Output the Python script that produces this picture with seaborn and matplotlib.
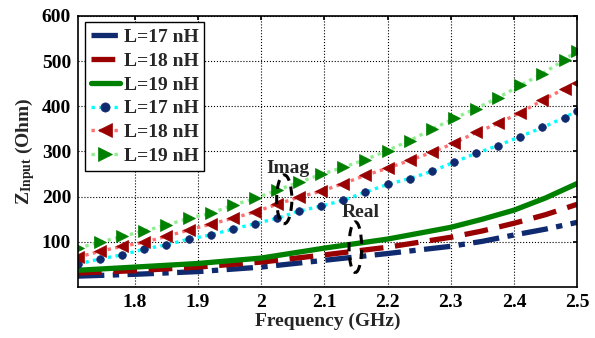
import numpy as np
import pandas as pd
import matplotlib
matplotlib.use("Agg")
import matplotlib.pyplot as plt
import seaborn as sns
from matplotlib.patches import Ellipse

# ---- data ----
freq_marker = [1.71, 1.745, 1.78, 1.815, 1.85, 1.885, 1.92, 1.955, 1.99, 2.025,
               2.06, 2.095, 2.13, 2.165, 2.2, 2.235, 2.27, 2.305, 2.34, 2.375,
               2.41, 2.445, 2.48, 2.5]
imag_L17 = [51, 62, 71, 84, 93, 106, 115, 128, 140, 152, 168, 179, 192, 210,
            227, 240, 256, 276, 296, 313, 333, 353, 375, 390]
imag_L18 = [66, 79, 90, 99, 112, 126, 139, 152, 166, 183, 199, 212, 229, 247,
            263, 280, 298, 318, 342, 362, 386, 413, 439, 452]
imag_L19 = [86, 99, 112, 124, 137, 152, 163, 181, 196, 214, 232, 249, 265, 282,
            302, 324, 349, 373, 395, 419, 446, 472, 503, 523]

freq_line = [1.71, 1.8, 1.9, 2.0, 2.1, 2.2, 2.3, 2.35, 2.4, 2.45, 2.5]
real_L17 = [24, 28, 34, 44, 59, 74, 90, 101, 115, 128, 143]
real_L18 = [31, 36, 44, 55, 71, 88, 110, 124, 141, 160, 183]
real_L19 = [37, 44, 52, 64, 86, 106, 132, 150, 170, 197, 229]

labels = ["L=17 nH", "L=18 nH", "L=19 nH"]
xticks = [1.8, 1.9, 2.0, 2.1, 2.2, 2.3, 2.4, 2.5]
xtick_labels = ["1.8", "1.9", "2", "2.1", "2.2", "2.3", "2.4", "2.5"]
yticks = [100, 200, 300, 400, 500, 600]

sns.set_theme(style="white")
plt.rcParams["font.family"] = ["Liberation Serif", "DejaVu Serif"]
plt.rcParams["font.weight"] = "bold"
plt.rcParams["mathtext.fontset"] = "custom"
plt.rcParams["mathtext.rm"] = "Liberation Serif:bold"
plt.rcParams["mathtext.bf"] = "Liberation Serif:bold"
plt.rcParams["mathtext.it"] = "Liberation Serif:bold"

FS = 14

fig = plt.figure(figsize=(5.95, 3.38), dpi=100)
ax = fig.add_axes([0.131, 0.151, 0.839, 0.802])

navy = "#0f2a6e"
dred = "#990000"
green = "#008000"

df_real = pd.DataFrame({"f": freq_line, "L17": real_L17, "L18": real_L18, "L19": real_L19})
df_imag = pd.DataFrame({"f": freq_marker, "L17": imag_L17, "L18": imag_L18, "L19": imag_L19})

lw = 3.8
sns.lineplot(data=df_real, x="f", y="L17", ax=ax, color=navy, lw=lw,
             linestyle=(0, (5, 1.6, 1.2, 1.6)), label=labels[0])
sns.lineplot(data=df_real, x="f", y="L18", ax=ax, color=dred, lw=lw,
             linestyle=(0, (4.5, 2.2)), label=labels[1])
sns.lineplot(data=df_real, x="f", y="L19", ax=ax, color=green, lw=lw,
             linestyle="-", label=labels[2])

dot = (0, (1, 1.3))
sns.lineplot(data=df_imag, x="f", y="L17", ax=ax, color="#00ffff", lw=2.4,
             linestyle=dot, marker="o", markersize=5.5, markerfacecolor=navy,
             markeredgecolor=navy, markeredgewidth=0.5, label=labels[0])
sns.lineplot(data=df_imag, x="f", y="L18", ax=ax, color="#ff7070", lw=2.4,
             linestyle=dot, marker="<", markersize=8, markerfacecolor=dred,
             markeredgecolor=dred, markeredgewidth=0.5, label=labels[1])
sns.lineplot(data=df_imag, x="f", y="L19", ax=ax, color="#90ee90", lw=2.4,
             linestyle=dot, marker=">", markersize=8, markerfacecolor=green,
             markeredgecolor=green, markeredgewidth=0.5, label=labels[2])

ax.set_xlim(1.71, 2.5)
ax.set_ylim(0, 600)
ax.set_xticks(xticks)
ax.set_xticklabels(xtick_labels)
ax.set_yticks(yticks)
ax.grid(True, color="black", linestyle=":", linewidth=0.8)
ax.tick_params(axis="both", labelsize=FS, direction="in", length=3,
               colors="black", pad=5, top=True, right=True)
for lab in ax.get_xticklabels() + ax.get_yticklabels():
    lab.set_fontweight("bold")
for s in ax.spines.values():
    s.set_color("black")
    s.set_linewidth(1.2)

ax.set_xlabel("Frequency (GHz)", fontsize=FS, fontweight="bold", labelpad=1)
ax.set_ylabel(r"$\mathregular{Z_{Input}}$ (Ohm)", fontsize=FS, fontweight="bold", labelpad=3)

leg = ax.legend(loc="upper left", bbox_to_anchor=(0.006, 0.99), fontsize=FS,
                frameon=True, fancybox=False, edgecolor="black", framealpha=1,
                handlelength=1.5, handletextpad=0.2, labelspacing=0.32,
                borderpad=0.3, borderaxespad=0.2, markerscale=1.2)
leg.get_frame().set_linewidth(1.0)
for t in leg.get_texts():
    t.set_fontweight("bold")

# annotations
ax.text(2.0425, 262, "Imag", fontsize=FS, fontweight="bold", ha="center", va="center")
ax.text(2.158, 165, "Real", fontsize=FS, fontweight="bold", ha="center", va="center")
ax.add_patch(Ellipse((2.0365, 194), width=0.024, height=108, fill=False,
                     edgecolor="black", linestyle=(0, (3, 2)), lw=2.2, zorder=10))
ax.add_patch(Ellipse((2.149, 88), width=0.020, height=112, fill=False,
                     edgecolor="black", linestyle=(0, (3, 2)), lw=2.2, zorder=10))

fig.savefig("out.png", dpi=100)
